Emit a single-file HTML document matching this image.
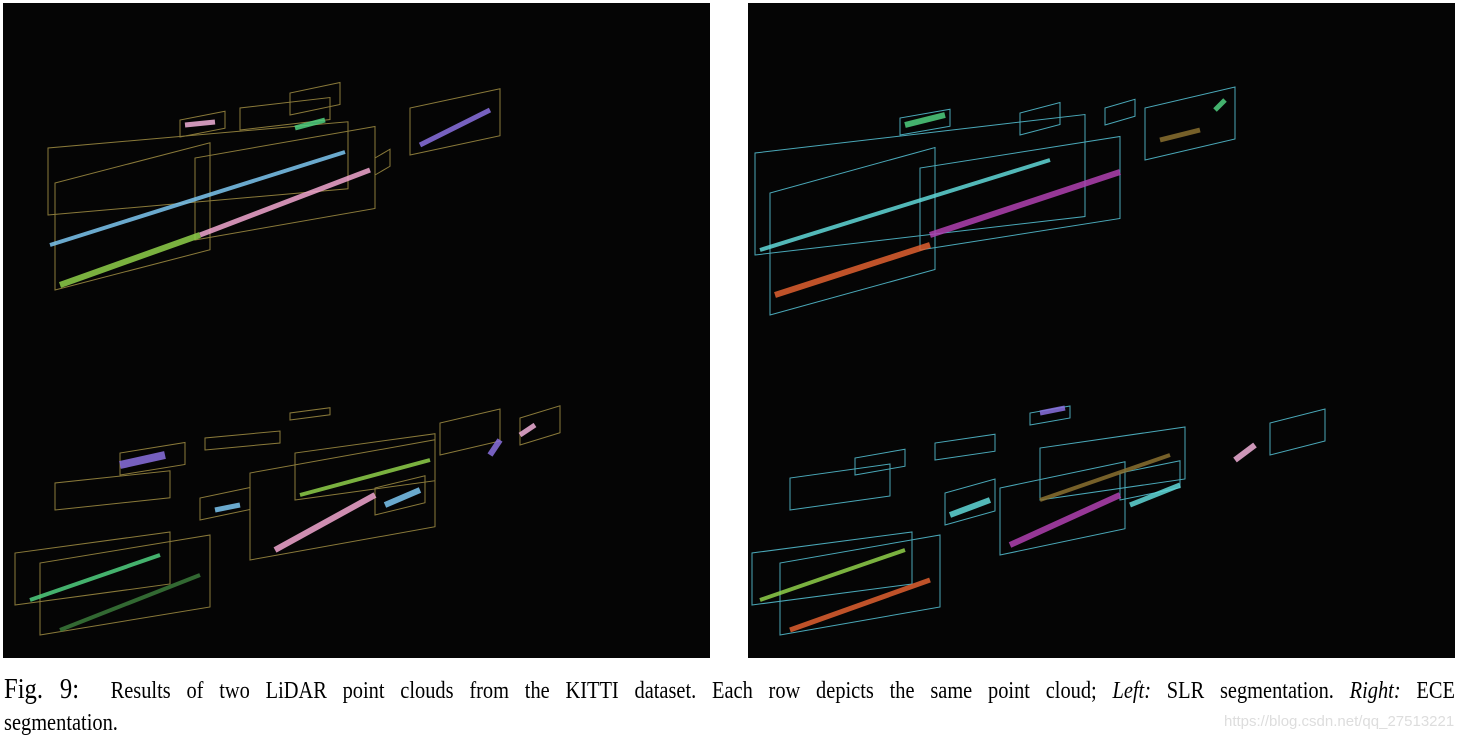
<!DOCTYPE html>
<html><head><meta charset="utf-8"><style>
body{margin:0;background:#fff;width:1461px;height:742px;overflow:hidden;position:relative;font-family:"Liberation Serif",serif}
svg{position:absolute;left:0;top:0}
.cap{position:absolute;left:4px;width:1707px;font-size:24px;color:#000;white-space:nowrap;transform:scaleX(0.85);transform-origin:0 0}
.l1{top:672px;line-height:34px;text-align:justify;text-align-last:justify;white-space:normal}
.l2{top:708px;line-height:30px}
.wm{position:absolute;left:1224px;top:713px;font-family:"Liberation Sans",sans-serif;font-size:15px;color:#ddd}
</style></head><body>
<svg width="1461" height="742">
<rect x="3" y="3" width="707" height="655" fill="#050505"/>
<rect x="748" y="3" width="707" height="655" fill="#050505"/>
<g id="marks"></g>
</svg>
<div class="cap l1"><span style="font-size:29px">Fig. 9:</span>&nbsp; Results of two LiDAR point clouds from the KITTI dataset. Each row depicts the same point cloud; <i>Left:</i> SLR segmentation. <i>Right:</i> ECE</div>
<div class="cap l2">segmentation.</div>
<div class="wm">https://blog.csdn.net/qq_27513221</div>
<script>
// point-cloud streaks: x1,y1,x2,y2,thickness,colorIndex
const streaks=[
[50,245,345,152,4,0],[200,235,370,170,5,1],[60,285,200,235,6,2],[185,125,215,122,5,3],[420,145,490,110,5,4],[295,128,325,120,5,5],
[30,600,160,555,4,5],[60,630,200,575,4,6],[275,550,375,495,6,1],[300,495,430,460,4,2],[120,465,165,455,8,4],[385,505,420,490,6,0],[490,455,500,440,6,4],[520,435,535,425,5,3],[215,510,240,505,5,0],
[760,250,1050,160,4,7],[930,235,1120,172,6,8],[775,295,930,245,6,9],[905,125,945,115,6,5],[1160,140,1200,130,5,10],[1215,110,1225,100,5,5],
[760,600,905,550,4,2],[790,630,930,580,5,9],[1010,545,1120,495,6,8],[1040,500,1170,455,4,10],[1130,505,1180,485,5,7],[1235,460,1255,445,6,3],[950,515,990,500,6,7],[1040,413,1065,408,5,4]
];
const colors=['#7cc6f0','#f2a6d0','#8fd04a','#f0b0d8','#8a70e0','#50d080','#3a7a3a','#60d8d8','#b040b0','#e06030','#8a7030'];
// bounding boxes: x,y,w,h,skew,panel(0 left 1 right)
const boxes=[
[48,140,300,75,-1,0],[55,175,155,115,-1,0],[195,150,180,90,-1,0],[410,100,90,55,-1,0],[180,112,45,25,-1,0],[240,100,90,30,-1,0],[290,85,50,30,-1,0],[375,150,15,25,-1,0],
[15,545,155,60,-1,0],[40,555,170,80,-1,0],[250,465,185,95,-1,0],[295,445,140,55,-1,0],[120,445,65,30,-1,0],[55,475,115,35,-1,0],[200,490,50,30,-1,0],[375,480,50,35,-1,0],[440,415,60,40,-1,0],[520,410,40,35,-1,0],[290,405,40,15,-1,0],[205,430,75,20,-1,0],
[755,145,330,110,1,1],[770,185,165,130,1,1],[920,160,200,90,1,1],[1145,100,90,60,1,1],[900,110,50,25,1,1],[1020,105,40,30,1,1],[1105,100,30,25,1,1],
[752,545,160,60,1,1],[780,555,160,80,1,1],[1000,480,125,75,1,1],[1040,440,145,60,1,1],[855,450,50,25,1,1],[790,470,100,40,1,1],[945,485,50,40,1,1],[1120,465,60,35,1,1],[1270,415,55,40,1,1],[1030,405,40,20,1,1],[935,435,60,25,1,1]
];
const g=document.getElementById('marks');const NS='http://www.w3.org/2000/svg';
boxes.forEach(b=>{const r=document.createElementNS(NS,'polygon');const s=b[3]*0.35;
r.setAttribute('points',`${b[0]},${b[1]+b[3]} ${b[0]+b[2]},${b[1]+b[3]-s} ${b[0]+b[2]},${b[1]-s+8} ${b[0]},${b[1]+8}`);
r.setAttribute('fill','none');r.setAttribute('stroke',b[5]?'#4aa8b8':'#8a7a3a');r.setAttribute('stroke-width','1');


g.appendChild(r);});
streaks.forEach(s=>{const l=document.createElementNS(NS,'line');
l.setAttribute('x1',s[0]);l.setAttribute('y1',s[1]);l.setAttribute('x2',s[2]);l.setAttribute('y2',s[3]);
l.setAttribute('stroke',colors[s[5]]);l.setAttribute('stroke-width',s[4]);l.setAttribute('opacity','0.85');


g.appendChild(l);});
</script>
</body></html>
